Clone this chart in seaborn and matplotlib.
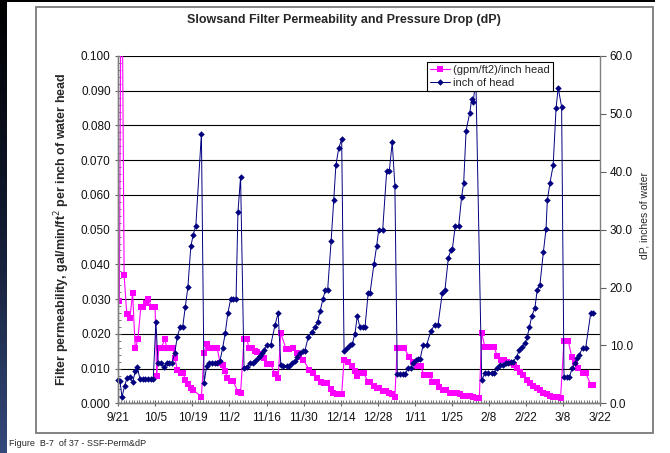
import numpy as np
import pandas as pd
import matplotlib
matplotlib.use('Agg')
import matplotlib.pyplot as plt
import matplotlib.dates as mdates
from matplotlib.patches import Rectangle
from matplotlib.lines import Line2D
from matplotlib.ticker import MultipleLocator, FormatStrFormatter
import seaborn as sns

# days counted from 9/21
start_date = '2002-09-21'
end_days = 182

perm_day = [0.4, 1.2, 2.2, 3.2, 4.4, 5.4, 6.4, 7.4, 8.5, 9.4, 10.5, 11.3, 12.6, 13.9,
            14.5, 15.3, 16.2, 17.5, 18.5, 19.5, 20.6, 21.4, 22.3, 23.6, 24.6, 25.3, 26.3,
            27.4, 28.3, 31.4, 32.4, 33.4, 34.4, 35.4, 36.4, 37.4, 38.4, 39.4, 40.2, 41.2,
            42.5, 43.4, 45.2, 46.2, 47.5, 48.5, 49.5, 50.5, 51.5, 52.5, 53.8, 55.0, 56.3,
            57.6, 59.2, 60.4, 61.4, 63.4, 64.6, 66.1, 67.4, 68.4, 69.9, 72.2, 73.7, 75.2,
            76.6, 77.7, 78.7, 80.2, 81.2, 82.5, 83.5, 84.4, 85.3, 86.9, 88.2, 89.4, 90.3,
            91.6, 92.8, 94.4, 95.1, 96.6, 97.6, 98.6, 99.9, 101.1, 102.4, 103.5, 104.5,
            105.4, 106.7, 107.9, 109.9, 111.4, 113.0, 114.2, 115.5, 116.7, 117.8, 118.6,
            120.3, 121.3, 122.6, 123.8, 125.3, 126.6, 127.8, 129.1, 130.3, 131.6, 132.9,
            134.1, 135.4, 136.4, 137.3, 138.5, 139.8, 141.1, 141.9, 143.2, 144.5, 145.7,
            147.0, 148.2, 149.5, 150.5, 151.8, 153.0, 154.3, 155.5, 156.8, 158.1, 159.3,
            160.6, 161.8, 163.1, 164.3, 165.6, 167.1, 168.4, 170.0, 171.3, 172.5, 173.8,
            175.4, 176.7, 178.5, 179.4]
perm_val = [0.0295, 0.150, 0.0368, 0.0257, 0.0247, 0.0317, 0.0158, 0.0184, 0.0277, 0.0277,
            0.0290, 0.0300, 0.0277, 0.0277, 0.0080, 0.0158, 0.0158, 0.0184, 0.0158, 0.0158,
            0.0158, 0.0130, 0.0096, 0.0086, 0.0086, 0.0067, 0.0055, 0.0043, 0.0038, 0.0019,
            0.0144, 0.0171, 0.0158, 0.0158, 0.0158, 0.0158, 0.0117, 0.0110, 0.0094, 0.0072,
            0.0064, 0.0064, 0.0033, 0.0031, 0.0184, 0.0184, 0.0158, 0.0158, 0.0150, 0.0149,
            0.0141, 0.0130, 0.0113, 0.0113, 0.0084, 0.0074, 0.0202, 0.0156, 0.0156, 0.0160,
            0.0146, 0.0134, 0.0125, 0.0096, 0.0086, 0.0074, 0.0062, 0.0058, 0.0058, 0.0040,
            0.0031, 0.0027, 0.0027, 0.0027, 0.0125, 0.0120, 0.0107, 0.0094, 0.0079, 0.0086,
            0.0086, 0.0061, 0.0061, 0.0050, 0.0043, 0.0043, 0.0035, 0.0035, 0.0029, 0.0027,
            0.0019, 0.0160, 0.0160, 0.0160, 0.0134, 0.0120, 0.0107, 0.0107, 0.0082, 0.0082,
            0.0082, 0.0062, 0.0062, 0.0048, 0.0038, 0.0038, 0.0030, 0.0030, 0.0030, 0.0028,
            0.0022, 0.0021, 0.0020, 0.0019, 0.0014, 0.0014, 0.0202, 0.0163, 0.0163, 0.0163,
            0.0163, 0.0136, 0.0125, 0.0125, 0.0120, 0.0115, 0.0110, 0.0101, 0.0091, 0.0082,
            0.0067, 0.0058, 0.0051, 0.0043, 0.0038, 0.0031, 0.0026, 0.0022, 0.0019, 0.0017,
            0.0016, 0.0180, 0.0180, 0.0134, 0.0120, 0.0101, 0.0086, 0.0086, 0.0053, 0.0053]

head_day = [0.0, 0.6, 1.4, 2.4, 3.3, 4.4, 5.4, 6.4, 7.2, 8.2, 9.2, 10.2, 11.2, 12.2, 13.2,
            14.2, 15.0, 16.0, 17.3, 18.3, 19.3, 20.3, 21.3, 22.3, 23.3, 24.3, 25.3, 26.3,
            27.4, 28.3, 29.3, 31.4, 32.4, 33.4, 34.4, 35.4, 36.4, 37.4, 38.4, 39.4, 40.4,
            41.4, 42.5, 43.4, 44.5, 45.2, 46.2, 47.5, 48.5, 49.8, 50.8, 51.8, 52.8, 53.5,
            54.3, 55.0, 56.1, 57.6, 59.2, 60.4, 61.4, 62.3, 63.6, 64.6, 65.6, 66.8, 67.6,
            68.6, 69.7, 70.5, 71.8, 73.1, 74.3, 75.3, 76.3, 77.3, 78.2, 79.1, 80.4, 81.4,
            82.2, 83.3, 84.4, 85.3, 86.5, 87.5, 88.4, 89.4, 90.3, 91.3, 92.3, 93.2, 94.4,
            95.1, 96.6, 97.6, 98.4, 99.9, 101.4, 102.4, 103.5, 104.5, 105.4, 106.4, 107.4,
            108.3, 109.6, 110.5, 111.4, 112.4, 113.1, 114.0, 115.2, 116.5, 118.1, 119.6,
            120.8, 122.4, 123.4, 124.7, 125.7, 126.2, 127.3, 128.6, 129.7, 130.5, 131.4,
            132.8, 133.5, 134.1, 135.1, 137.3, 138.5, 139.8, 141.1, 141.9, 143.2, 144.2,
            145.4, 146.5, 147.3, 148.2, 149.2, 150.5, 151.5, 152.5, 153.8, 154.5, 155.3,
            156.2, 157.4, 158.3, 159.3, 160.6, 161.6, 162.1, 163.1, 164.3, 165.4, 166.2,
            167.5, 168.4, 169.4, 170.4, 171.5, 172.5, 173.4, 174.2, 175.4, 176.6, 178.5,
            179.4]
head_val = [4.1, 3.9, 1.1, 3.0, 4.4, 4.6, 3.6, 5.5, 6.2, 4.15, 4.15, 4.15, 4.15, 4.15, 4.15,
            14.1, 7.0, 7.0, 6.2, 7.0, 7.0, 7.0, 8.65, 11.5, 13.1, 13.1, 16.6, 20.1, 27.1,
            29.1, 30.7, 46.6, 3.5, 6.45, 7.0, 7.0, 7.0, 7.0, 7.3, 9.5, 12.1, 15.6, 18.1,
            18.1, 18.1, 33.0, 39.1, 6.05, 6.2, 7.0, 7.0, 7.3, 7.8, 8.2, 8.65, 9.2, 10.1,
            10.1, 13.5, 15.6, 6.6, 6.5, 6.5, 6.5, 6.9, 7.3, 8.05, 8.65, 9.1, 9.1, 11.5,
            12.3, 13.1, 14.1, 16.0, 18.0, 19.5, 19.6, 28.0, 35.1, 41.1, 44.1, 45.6, 9.05,
            9.5, 10.0, 10.2, 12.0, 15.1, 13.1, 13.1, 13.1, 19.0, 19.0, 24.1, 27.1, 30.0,
            30.0, 40.1, 40.2, 45.1, 37.6, 5.05, 5.05, 5.05, 5.05, 6.05, 6.05, 7.0, 7.5,
            7.6, 7.6, 10.1, 10.1, 12.5, 13.6, 13.6, 19.0, 19.5, 25.1, 26.5, 26.6, 30.6,
            30.6, 35.6, 38.1, 47.1, 50.2, 52.5, 52.1, 56.0, 4.0, 5.2, 5.2, 5.2, 5.2, 6.05,
            6.6, 6.6, 6.9, 6.9, 7.2, 7.2, 8.05, 9.2, 9.8, 10.4, 11.5, 13.1, 15.0, 16.5,
            19.6, 20.5, 26.1, 30.1, 35.1, 38.1, 41.1, 51.0, 54.5, 51.2, 4.5, 4.5, 4.5,
            6.05, 6.9, 7.8, 8.35, 9.6, 9.6, 15.6, 15.6]

tick_labels = ['9/21', '10/5', '10/19', '11/2', '11/16', '11/30', '12/14', '12/28',
               '1/11', '1/25', '2/8', '2/22', '3/8', '3/22']

sns.set_style('ticks')
plt.rcParams['font.family'] = ['Liberation Sans', 'DejaVu Sans']

t0 = pd.Timestamp(start_date)
perm = pd.DataFrame({'date': t0 + pd.to_timedelta(perm_day, unit='D'), 'val': perm_val})
head = pd.DataFrame({'date': t0 + pd.to_timedelta(head_day, unit='D'), 'val': head_val})

W, H = 670, 453
fig = plt.figure(figsize=(W / 100, H / 100), dpi=100)

# dark strip on the left edge and along the top
strip = fig.add_axes([0, 0, 7 / W, 1])
grad = np.linspace(0, 1, 100).reshape(-1, 1)
strip.imshow(grad, aspect='auto', cmap=matplotlib.colors.LinearSegmentedColormap.from_list(
    'strip', ['#000000', '#111a30', '#34487a']), extent=[0, 1, 0, 1], origin='upper')
strip.axis('off')
fig.patches.append(Rectangle((0, 1 - 2 / H), 655 / W, 2 / H, transform=fig.transFigure,
                             facecolor='black', edgecolor='none'))

# chart frame
fig.patches.append(Rectangle((36 / W, 1 - 433 / H), 617 / W, 426 / H, transform=fig.transFigure,
                             facecolor='none', edgecolor='#7a7a7a', lw=1.3))

ax = fig.add_axes([118.3 / W, 1 - 403.3 / H, (600 - 118.3) / W, (403.3 - 56) / H])
ax2 = ax.twinx()

sns.lineplot(data=perm, x='date', y='val', ax=ax, color='#ff00ff', lw=0.8, marker='s',
             markersize=4.2, markeredgewidth=0, estimator=None, legend=False)
sns.lineplot(data=head, x='date', y='val', ax=ax2, color='#000080', lw=0.7, marker='D',
             markersize=3.3, markeredgewidth=0, estimator=None, legend=False, clip_on=False)

ax.set_ylim(0, 0.1)
ax.yaxis.set_major_locator(MultipleLocator(0.01))
ax.yaxis.set_minor_locator(MultipleLocator(0.002))
ax.yaxis.set_major_formatter(FormatStrFormatter('%.3f'))
ax.grid(axis='y', color='black', lw=0.8)
ax.grid(axis='x', visible=False)

ax2.set_ylim(0, 60)
ax2.yaxis.set_major_locator(MultipleLocator(10))
ax2.yaxis.set_major_formatter(FormatStrFormatter('%.1f'))
ax2.grid(False)

ax.set_xlim(t0, t0 + pd.Timedelta(days=end_days))
ax.set_xticks(pd.date_range(t0, periods=len(tick_labels), freq='14D'))
ax.set_xticklabels(tick_labels)
ax.xaxis.set_minor_locator(mdates.DayLocator())

for a in (ax, ax2):
    for s in a.spines.values():
        s.set_color('#808080')
        s.set_linewidth(1.0)
    a.spines['top'].set_visible(False)
ax.spines['right'].set_visible(False)

ax.tick_params(axis='both', which='major', direction='inout', length=5, width=0.8,
               color='#606060', labelsize=8.5, labelcolor='#111111', pad=3)
ax.tick_params(axis='both', which='minor', direction='in', length=2.5, width=0.6,
               color='#606060')
ax.tick_params(axis='x', which='major', pad=4)
ax2.tick_params(axis='y', which='major', direction='out', length=4, width=0.8,
                color='#606060', labelsize=8.5, labelcolor='#111111', pad=3)

ax.set_xlabel('')
ax.set_ylabel('Filter permeability, gal/min/ft$^2$ per inch of water head', fontsize=9,
              fontweight='bold')
ax.yaxis.set_label_coords(-0.096, 0.5)
ax2.set_ylabel('dP, inches of water', fontsize=7.5, rotation=90)
ax2.yaxis.set_label_coords(1.083, 0.54)

fig.text(344 / W, 1 - 20 / H, 'Slowsand Filter Permeability and Pressure Drop (dP)',
         ha='center', va='center', fontsize=9, fontweight='bold')
fig.text(9 / W, 1 - 444 / H, 'Figure  B-7  of 37 - SSF-Perm&dP', ha='left', va='center',
         fontsize=6.5)

handles = [Line2D([], [], color='#ff00ff', lw=0.8, marker='s', markersize=4.2, markeredgewidth=0),
           Line2D([], [], color='#000080', lw=0.7, marker='D', markersize=3.3, markeredgewidth=0)]
leg = ax2.legend(handles, ['(gpm/ft2)/inch head', 'inch of head'], loc='upper left',
                 bbox_to_anchor=((426.7 - 118.3) / (600 - 118.3), (403.3 - 62) / (403.3 - 56)),
                 frameon=True, fancybox=False, edgecolor='black', framealpha=1, fontsize=8,
                 handlelength=1.8, handletextpad=0.3, borderpad=0.3, labelspacing=0.2,
                 borderaxespad=0)
leg.get_frame().set_linewidth(0.8)
leg.set_zorder(10)

plt.savefig('out.png', dpi=100)
